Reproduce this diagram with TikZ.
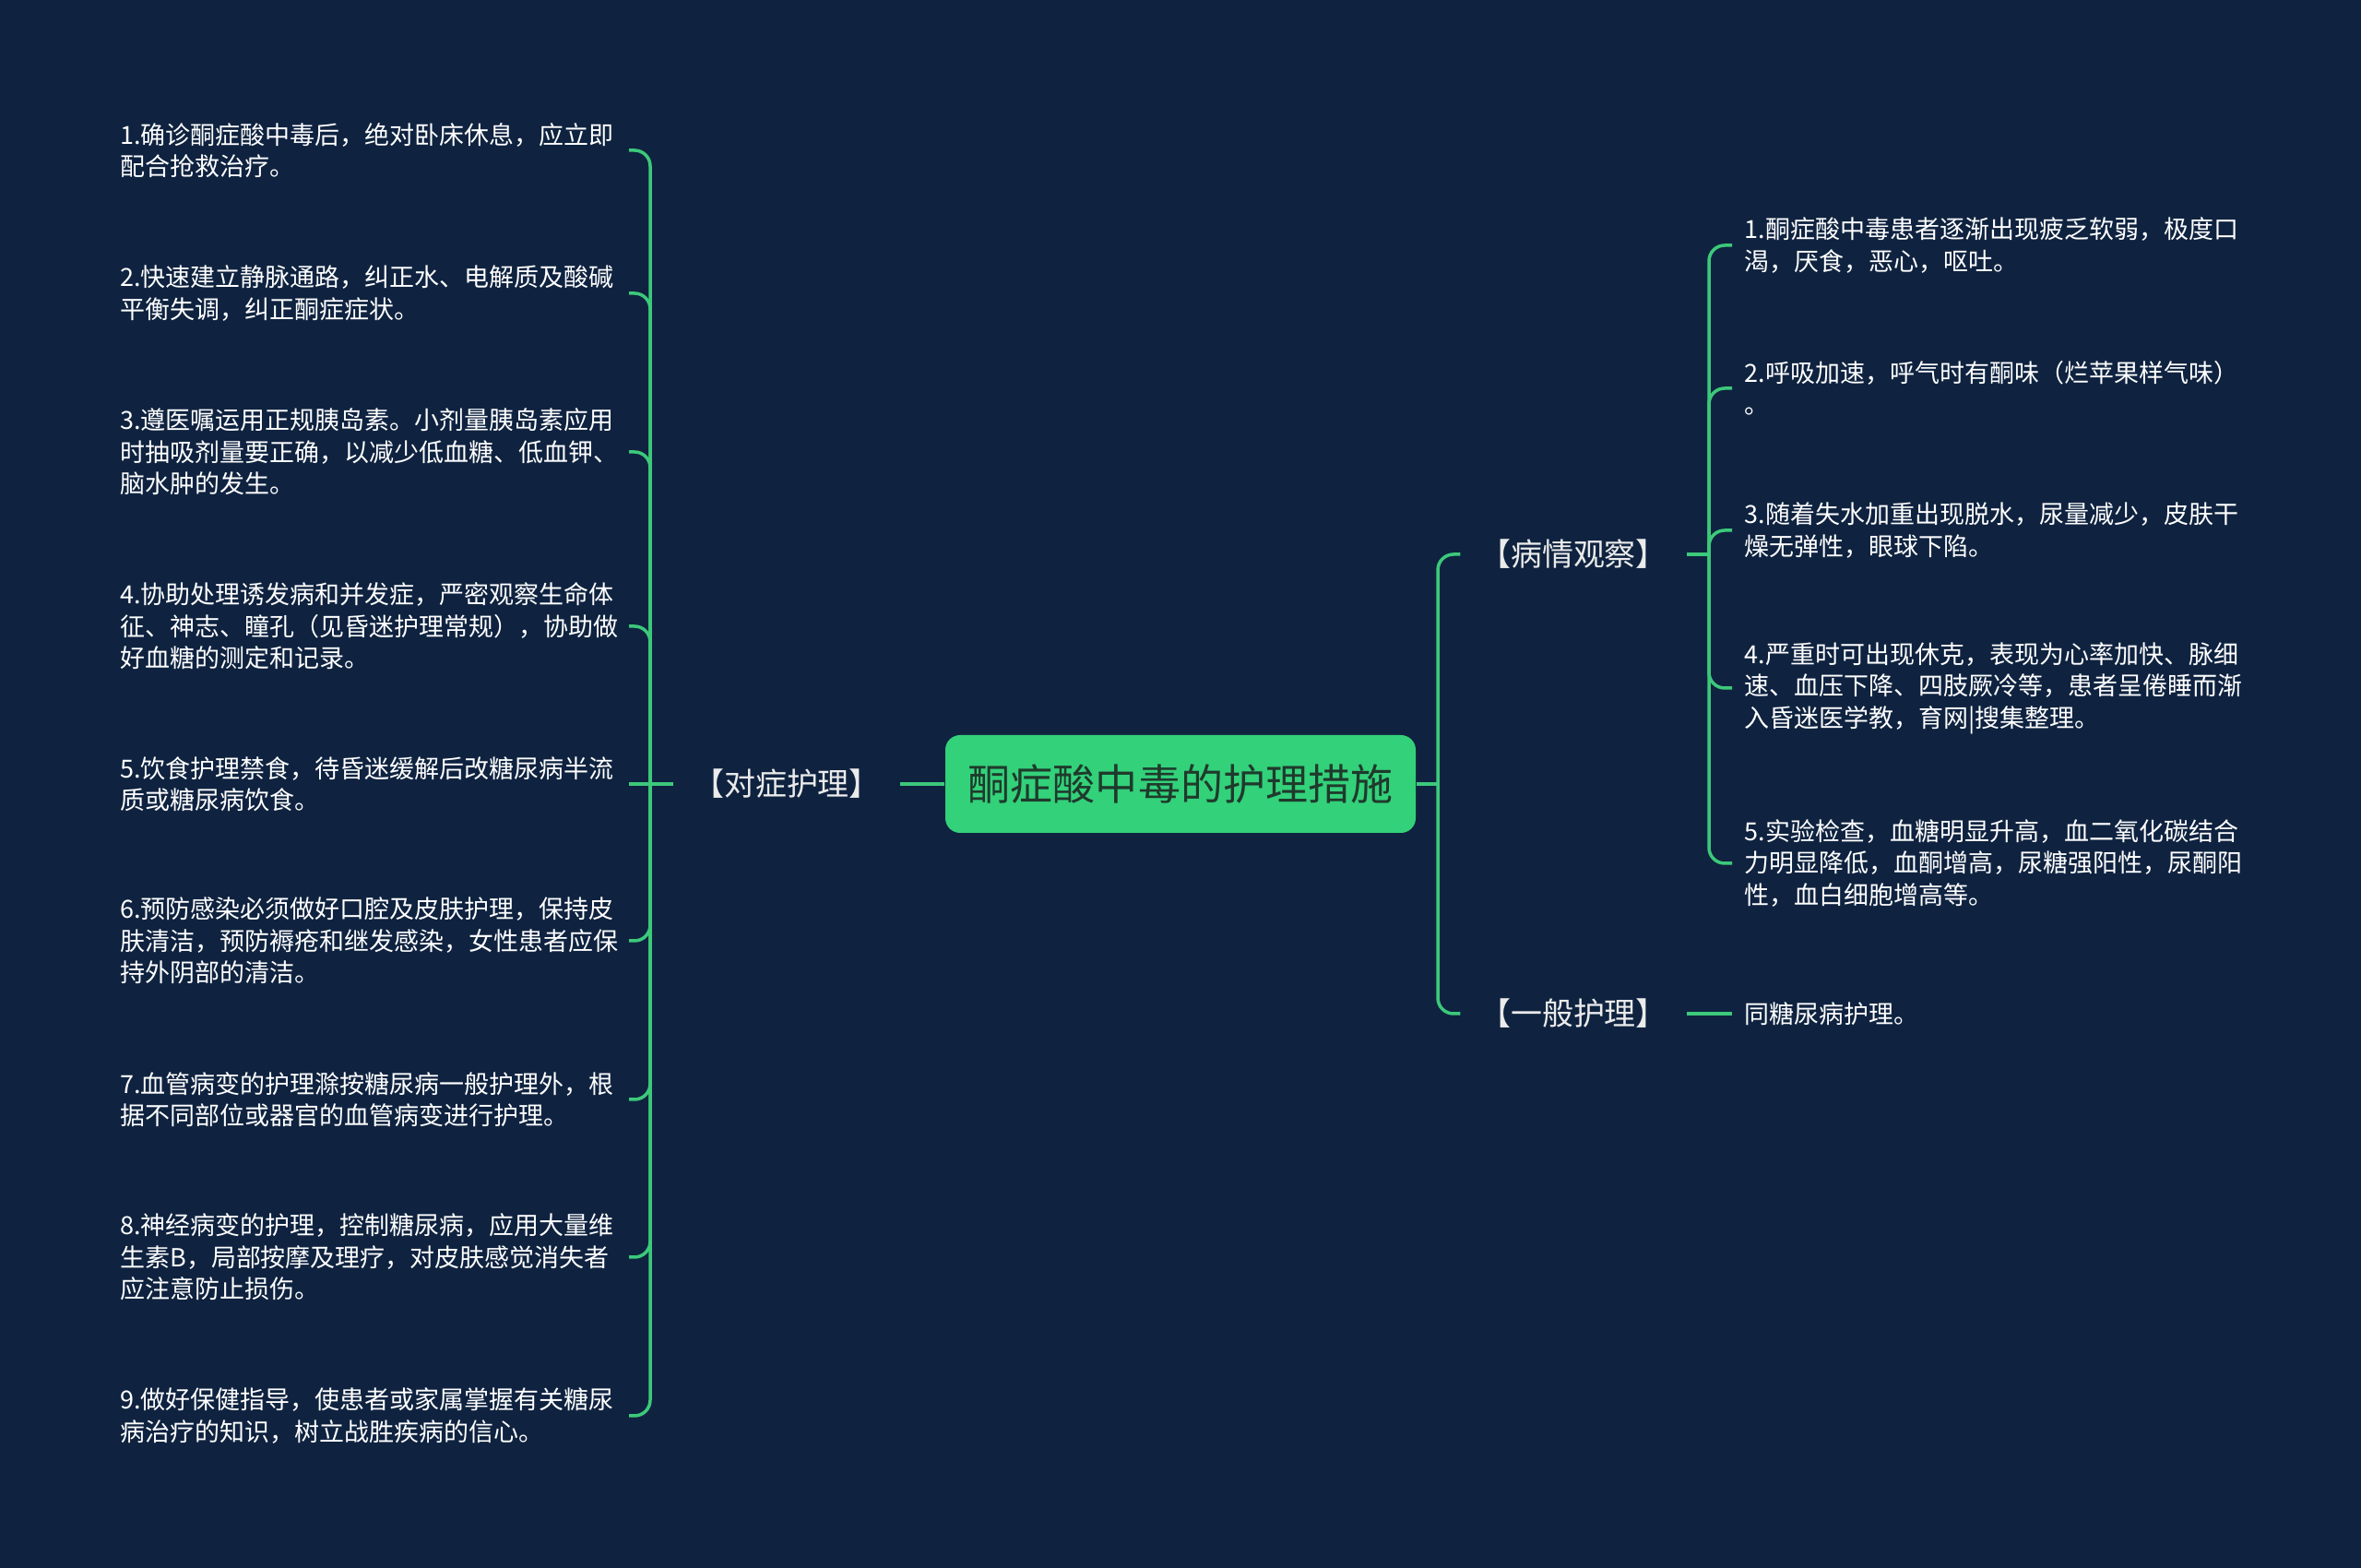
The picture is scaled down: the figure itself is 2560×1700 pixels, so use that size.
\documentclass[tikz,border=0pt]{standalone}
\usepackage{fontspec}
\setmainfont{Noto Sans CJK SC}
\definecolor{bg}{HTML}{0F2340}
\definecolor{lineg}{HTML}{3CC97A}
\definecolor{boxg}{HTML}{33D17A}
\definecolor{darktext}{HTML}{1F3A2C}
\begin{document}
\begin{tikzpicture}[x=0.1mm,y=-0.1mm,
  itemL/.style={anchor=east, inner xsep=1.1mm, inner ysep=0pt, text width=54mm, align=left, text=white, font=\fontsize{7.68pt}{9.82pt}\selectfont},
  itemR/.style={anchor=west, inner xsep=1.3mm, inner ysep=0pt, text width=56mm, align=left, text=white, font=\fontsize{7.68pt}{9.82pt}\selectfont},
  lab/.style={text=white!92!black, font=\fontsize{9.67pt}{11pt}\selectfont, inner xsep=2mm, inner ysep=1mm},
  conn/.style={draw=lineg, line width=0.35mm, rounded corners=1.7mm},
  rootbox/.style={fill=boxg, rounded corners=1.6mm, minimum width=51mm, minimum height=10.6mm, text=darktext, font=\fontsize{13.09pt}{15pt}\selectfont, inner sep=0pt}
]
\useasboundingbox (0,0) rectangle (2560,1700);
\fill[bg] (0,0) rectangle (2560,1700);

% root
\node[rootbox] (C) at (1280,850) {酮症酸中毒的护理措施};

% level 1 labels
\node[lab] (L) at (853,850) {【对症护理】};
\node[lab] (R1) at (1706,601) {【病情观察】};
\node[lab] (R2) at (1706,1099) {【一般护理】};

% left items (east edge at x=682)
\node[itemL] (l1) at (682,163) {1.确诊酮症酸中毒后，绝对卧床休息，应立即\\配合抢救治疗。};
\node[itemL] (l2) at (682,318) {2.快速建立静脉通路，纠正水、电解质及酸碱\\平衡失调，纠正酮症症状。};
\node[itemL] (l3) at (682,490) {3.遵医嘱运用正规胰岛素。小剂量胰岛素应用\\时抽吸剂量要正确，以减少低血糖、低血钾、\\脑水肿的发生。};
\node[itemL] (l4) at (682,679) {4.协助处理诱发病和并发症，严密观察生命体\\征、神志、瞳孔（见昏迷护理常规），协助做\\好血糖的测定和记录。};
\node[itemL] (l5) at (682,850) {5.饮食护理禁食，待昏迷缓解后改糖尿病半流\\质或糖尿病饮食。};
\node[itemL] (l6) at (682,1020) {6.预防感染必须做好口腔及皮肤护理，保持皮\\肤清洁，预防褥疮和继发感染，女性患者应保\\持外阴部的清洁。};
\node[itemL] (l7) at (682,1192) {7.血管病变的护理滁按糖尿病一般护理外，根\\据不同部位或器官的血管病变进行护理。};
\node[itemL] (l8) at (682,1363) {8.神经病变的护理，控制糖尿病，应用大量维\\生素B，局部按摩及理疗，对皮肤感觉消失者\\应注意防止损伤。};
\node[itemL] (l9) at (682,1535) {9.做好保健指导，使患者或家属掌握有关糖尿\\病治疗的知识，树立战胜疾病的信心。};

% right items (west edge at x=1878)
\node[itemR] (r1) at (1878,266) {1.酮症酸中毒患者逐渐出现疲乏软弱，极度口\\渴，厌食，恶心，呕吐。};
\node[itemR] (r2) at (1878,421) {2.呼吸加速，呼气时有酮味（烂苹果样气味）\\。};
\node[itemR] (r3) at (1878,575) {3.随着失水加重出现脱水，尿量减少，皮肤干\\燥无弹性，眼球下陷。};
\node[itemR] (r4) at (1878,746) {4.严重时可出现休克，表现为心率加快、脉细\\速、血压下降、四肢厥冷等，患者呈倦睡而渐\\入昏迷医学教，育网|搜集整理。};
\node[itemR] (r5) at (1878,936) {5.实验检查，血糖明显升高，血二氧化碳结合\\力明显降低，血酮增高，尿糖强阳性，尿酮阳\\性，血白细胞增高等。};
\node[itemR] (g1) at (1878,1099) {同糖尿病护理。};

% junction coordinates
\coordinate (jl) at (705,850);
\coordinate (jr) at (1559,850);
\coordinate (jr1) at (1853,601);

% connectors: root to level 1
\draw[conn] (C.west) -- (L.east);
\draw[conn] (C.east) -- (jr);
\draw[conn] (jr) |- (R1.west);
\draw[conn] (jr) |- (R2.west);

% left bracket
\draw[conn] (L.west) -- (jl);
\foreach \n in {l1,l2,l3,l4,l6,l7,l8,l9} {
  \draw[conn] (jl) |- (\n.east);
}
\draw[conn] (jl) -- (l5.east);

% right bracket
\draw[conn] (R1.east) -- (jr1);
\foreach \n in {r1,r2,r3,r4,r5} {
  \draw[conn] (jr1) |- (\n.west);
}
\draw[conn] (R2.east) -- (g1.west);
\end{tikzpicture}
\end{document}
